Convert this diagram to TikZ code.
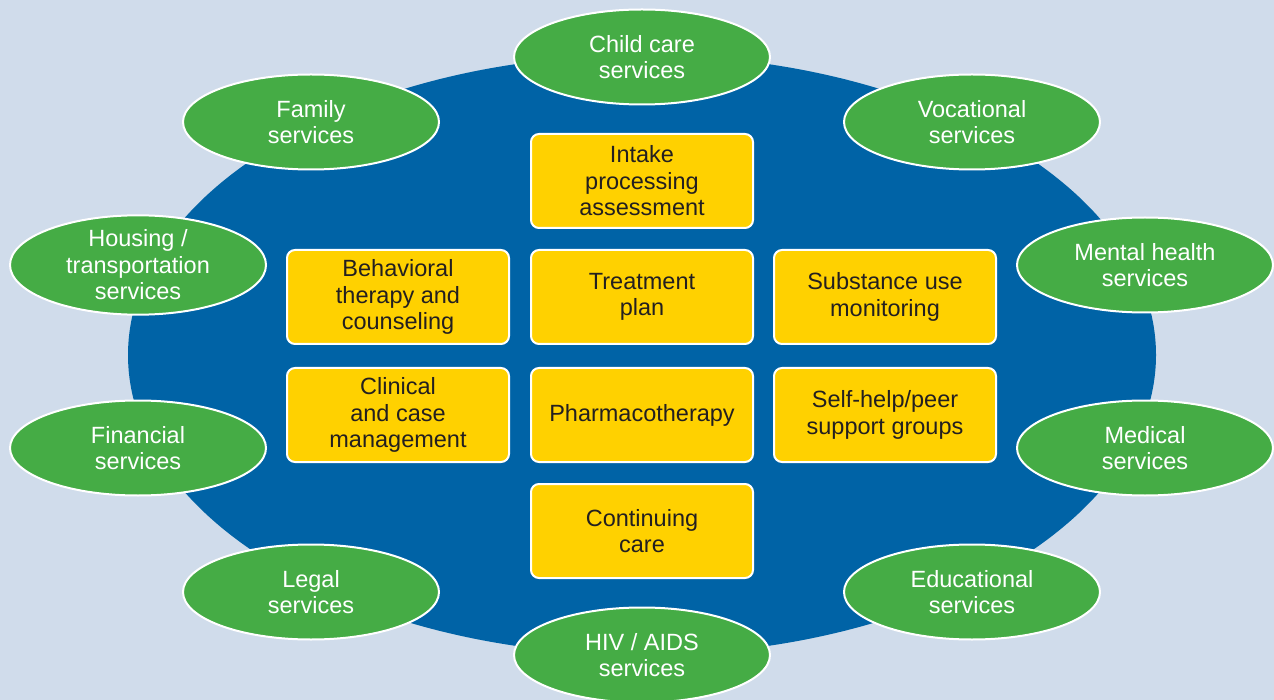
\documentclass[tikz,border=0pt]{standalone}
\usepackage{fontspec}
\setmainfont{Liberation Sans}
\usetikzlibrary{shapes.geometric}
\definecolor{bgc}{HTML}{D0DCEB}
\definecolor{bigblue}{HTML}{0063A6}
\definecolor{svgreen}{HTML}{45AC45}
\definecolor{boxyellow}{HTML}{FFD100}
\definecolor{txtdark}{HTML}{231F20}
\tikzset{
  svc/.style={ellipse, draw=white, line width=2pt, fill=svgreen, text=white,
    minimum width=256pt, minimum height=95pt, inner sep=0pt, align=center,
    font=\fontsize{23.5}{26.5}\selectfont},
  core/.style={rectangle, rounded corners=8pt, draw=white, line width=2pt, fill=boxyellow,
    text=txtdark, minimum width=222pt, minimum height=94pt, inner sep=0pt, align=center,
    font=\fontsize{23.5}{26.5}\selectfont}
}
\begin{document}
\begin{tikzpicture}[x=1pt,y=-1pt]
\fill[bgc] (0,0) rectangle (1274,700);
\useasboundingbox (0,0) rectangle (1274,700);
\fill[bigblue] (642,355) ellipse [x radius=514, y radius=300];
% services
\node[svc] (child) at (642,57) {Child care\\services};
\node[svc] (family) at (311,122) {Family\\services};
\node[svc] (voc) at (972,122) {Vocational\\services};
\node[svc] (housing) at (138,265) {Housing /\\transportation\\services};
\node[svc] (mental) at (1145,265) {Mental health\\services};
\node[svc] (fin) at (138,448) {Financial\\services};
\node[svc] (med) at (1145,448) {Medical\\services};
\node[svc] (legal) at (311,592) {Legal\\services};
\node[svc] (edu) at (972,592) {Educational\\services};
\node[svc] (hiv) at (642,655) {HIV / AIDS\\services};
% core
\node[core] (intake) at (642,181) {Intake\\processing\\assessment};
\node[core] (plan) at (642,297) {Treatment\\plan};
\node[core] (pharma) at (642,415) {Pharmacotherapy};
\node[core] (cont) at (642,531) {Continuing\\care};
\node[core] (behav) at (398,297) {Behavioral\\therapy and\\counseling};
\node[core] (clin) at (398,415) {Clinical\\and case\\management};
\node[core] (subst) at (885,297) {Substance use\\monitoring};
\node[core] (self) at (885,415) {Self-help/peer\\support groups};
\end{tikzpicture}
\end{document}
